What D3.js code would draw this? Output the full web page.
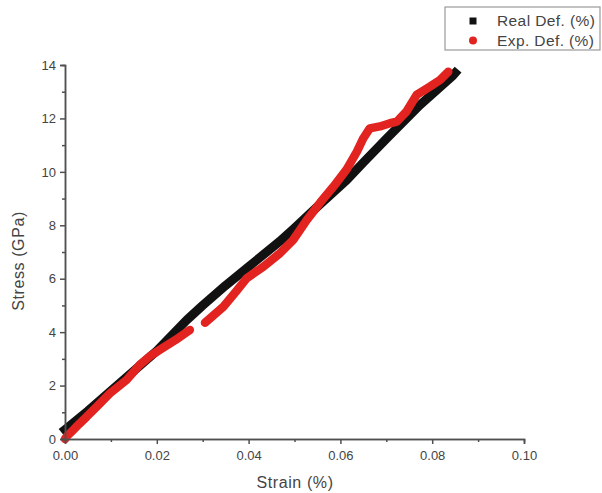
<!DOCTYPE html>
<html>
<head>
<meta charset="utf-8">
<script src="https://cdn.jsdelivr.net/npm/d3@7"></script>
<style>
  html, body { margin: 0; padding: 0; background: #fff; }
  svg { display: block; font-family: "Liberation Sans", Arial, sans-serif; }
</style>
</head>
<body>
<svg id="chart" width="602" height="493"></svg>
<script>
// Stress–strain readings: [strain, stress]
const realDef = [
  [0.0000, 0.35], [0.0050, 1.05], [0.0100, 1.80], [0.0150, 2.55], [0.0200, 3.30],
  [0.0265, 4.45], [0.0300, 5.00], [0.0350, 5.75], [0.0400, 6.45], [0.0468, 7.40],
  [0.0500, 7.90], [0.0550, 8.70], [0.0614, 9.70], [0.0650, 10.35], [0.0701, 11.25],
  [0.0773, 12.50], [0.0845, 13.60], [0.0850, 13.70]
];
// null marks the short stretch with no recorded points
const expDef = [
  [0.0000, 0.00], [0.0004, 0.10], [0.0018, 0.34], [0.0030, 0.55], [0.0047, 0.83],
  [0.0069, 1.21], [0.0098, 1.71], [0.0134, 2.21], [0.0163, 2.78], [0.0185, 3.10],
  [0.0214, 3.42], [0.0240, 3.70], [0.0272, 4.08], null,
  [0.0305, 4.35], [0.0345, 4.95], [0.0374, 5.55], [0.0396, 6.02], [0.0432, 6.45],
  [0.0468, 6.95], [0.0497, 7.45], [0.0527, 8.20], [0.0556, 8.85], [0.0585, 9.45],
  [0.0614, 10.10], [0.0636, 10.76], [0.0650, 11.26], [0.0664, 11.63], [0.0686, 11.70],
  [0.0708, 11.82], [0.0723, 11.88], [0.0744, 12.26], [0.0766, 12.88], [0.0795, 13.19],
  [0.0817, 13.44], [0.0835, 13.75]
];
const xTicks = [0, 0.02, 0.04, 0.06, 0.08, 0.10];
const xMinor = [0.01, 0.03, 0.05, 0.07, 0.09];
const yTicks = [0, 2, 4, 6, 8, 10, 12, 14];
const yMinor = [1, 3, 5, 7, 9, 11, 13];
const seriesNames = ["Real Def. (%)", "Exp. Def. (%)"];
const seriesColors = ["#111111", "#e3231f"];

const svg = d3.select("#chart");
const x = d3.scaleLinear().domain([0, 0.10]).range([65, 524]);
const y = d3.scaleLinear().domain([0, 14]).range([439, 65]);
const axisColor = "#505050";

// Data curves (dense point clouds rendered as thick strokes)
const line = d3.line()
  .defined(d => d !== null)
  .x(d => x(d[0])).y(d => y(d[1]))
  .curve(d3.curveLinear);

svg.append("path").datum(realDef)
  .attr("d", line)
  .attr("fill", "none").attr("stroke", seriesColors[0])
  .attr("stroke-width", 9).attr("stroke-linejoin", "round").attr("stroke-linecap", "square");

svg.append("path").datum(expDef)
  .attr("d", line)
  .attr("fill", "none").attr("stroke", seriesColors[1])
  .attr("stroke-width", 8.5).attr("stroke-linejoin", "round").attr("stroke-linecap", "round");

// Axes
const xAxis = svg.append("g").attr("transform", `translate(0,${y(0)})`)
  .call(d3.axisBottom(x).tickValues(xTicks).tickFormat(d3.format(".2f")).tickSize(5).tickPadding(4));
const xAxisMinor = svg.append("g").attr("transform", `translate(0,${y(0)})`)
  .call(d3.axisBottom(x).tickValues(xMinor).tickFormat("").tickSize(3));
const yAxis = svg.append("g").attr("transform", `translate(${x(0)},0)`)
  .call(d3.axisLeft(y).tickValues(yTicks).tickFormat(d3.format("d")).tickSize(5).tickPadding(4));
const yAxisMinor = svg.append("g").attr("transform", `translate(${x(0)},0)`)
  .call(d3.axisLeft(y).tickValues(yMinor).tickFormat("").tickSize(3));

[xAxis, xAxisMinor, yAxis, yAxisMinor].forEach(g => {
  g.select(".domain").attr("stroke", axisColor).attr("stroke-width", 1.5);
  g.selectAll(".tick line").attr("stroke", axisColor).attr("stroke-width", 1.5);
  g.selectAll(".tick text").attr("fill", "#444").style("font-size", "13px")
    .style("font-family", "'Liberation Sans', Arial, sans-serif");
});
xAxis.selectAll(".tick text").attr("dy", "0.95em");

// Axis titles
svg.append("text")
  .attr("x", 295).attr("y", 488)
  .attr("text-anchor", "middle")
  .attr("fill", "#444").style("font-size", "16px").style("letter-spacing", "0.6px")
  .text("Strain (%)");

svg.append("text")
  .attr("transform", `translate(24,${261}) rotate(-90)`)
  .attr("text-anchor", "middle")
  .attr("fill", "#444").style("font-size", "16px").style("letter-spacing", "0.6px")
  .text("Stress (GPa)");

// Legend
const legend = svg.append("g");
legend.append("rect")
  .attr("x", 445).attr("y", 7).attr("width", 155).attr("height", 43)
  .attr("fill", "#fff").attr("stroke", "#9a9a9a").attr("stroke-width", 1.2);
legend.append("rect")
  .attr("x", 469.5).attr("y", 17.5).attr("width", 7).attr("height", 7)
  .attr("fill", seriesColors[0]);
legend.append("circle")
  .attr("cx", 473).attr("cy", 40.5).attr("r", 4)
  .attr("fill", seriesColors[1]);
legend.selectAll("text.lbl").data(seriesNames).enter().append("text")
  .attr("class", "lbl")
  .attr("x", 497).attr("y", (d, i) => 26 + i * 19.5)
  .attr("fill", "#444").style("font-size", "15.5px").style("letter-spacing", "0.4px")
  .text(d => d);
</script>
</body>
</html>
